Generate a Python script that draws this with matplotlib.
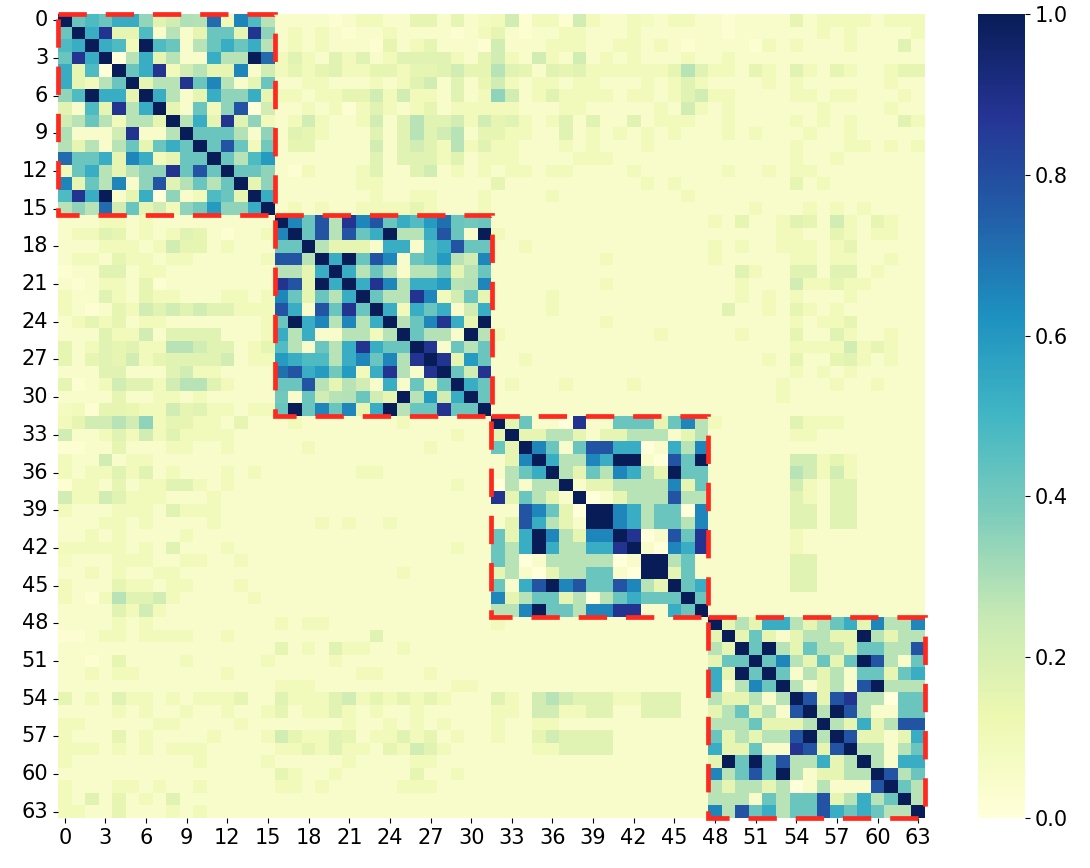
import numpy as np
import matplotlib
matplotlib.use("Agg")
import matplotlib.pyplot as plt
import matplotlib.patches as patches
import seaborn as sns

# levels 0-9; LEVELS gives the value of each level
LEVELS = [0.0, 0.05, 0.15, 0.28, 0.42, 0.53, 0.65, 0.78, 0.88, 1.0]
block1 = ["9444642131461743", "4958225131244284", "5595419441345453", "4859035231153397",
          "4250945812322613", "6223492338463124", "5495529531254452", "3152835921424703",
          "2343233293528341", "5111381139444213", "2231342454947425", "7445265124494355",
          "2453233384749444", "5243613714434924", "5859125031144295", "3336242224363359"]
block2 = ["9647386746255454", "6947374593357419", "4493222155145744", "7739594761445326",
          "3325953431333234", "8729595863555326", "6424359433861242", "7517484952545125",
          "4956363593468529", "4351133139424193", "7314358544981434", "6555356464898264",
          "8756562582189438", "4473233151424954", "3143344329352594", "4946462593448449"]
block3 = ["9241108114442463", "2922332122333123", "4296414775501536", "1269533659910749",
          "1345932436532944", "0313391223333624", "8243219012333733", "1176420996534406",
          "1275321996534436", "4259632669801748", "4359533558910658", "4301333330199341",
          "2310233441099241", "4157967447632945", "6234423034544494", "3369443668811549"]
block4 = ["9232553234526336", "2924212332293233", "3294932433244337", "2449463242497314",
          "5294941323144245", "5136493123179333", "3223139727833044", "2342317939731144",
          "3334222393252377", "4232337939722125", "5224118727933134", "2949473352393155",
          "6347493122339734", "3233230131117943", "3331434472353493", "6374534475454339"]

# background (outside the blocks), one string per row, block columns left out
bg_band1 = ["111101111122121013021022112012111011112122221212", "121210112111101221011211112111111011111121211112",
            "121211102112111031111211122121011110211111211131", "232132312333321222132121112111111211111111111111",
            "121211122122132233211211221112311112111212111222", "111211111112111032121112111212111111211111111211",
            "221222221312131132111212112111122211111112211121", "112110212112121122111211111121211211111121111211",
            "123211221331332323212313113122111211112121211131", "132211111331331222211312121212111212111211211111",
            "122111121321232122111212111211111111111111221212", "111111111311211112111112111111111111111112111111",
            "101111211112111112212211112111111211211211111111", "111111211111111121111111111212111111112121111111",
            "111111121122111211112111111111211111111111111111", "121211121121111111111111111111111112111212121111"]
bg_band2 = ["111121111111111111111111111111112121121212112211", "111121111121111111111111111111111111121112112211",
            "111122112221211111211111111111112111121111211111", "111121111111111111111111211111112111111111111111",
            "111131121111111111111111111111111111111111111111", "111121211111111111111111111111111121113122121111",
            "211121211111111211112111111111111111211111111111", "211122333333321111112111111111111311112112111111",
            "112121211111111211111111211111111111111121211111", "111122211111111211111111111121111111112111111211",
            "212123223333311211111111111111111111111121222111", "212123123333311211211111111111111111212112121111",
            "111131111211111111111111111111111111112121211111", "211123112333211112111211111111111111121112112111",
            "111121121111111111111111111111111111121111111111", "211223222232211211111111111111111111111111111111"]
bg_band3 = ["222332412212121112111111121111112111113222111111", "211111311111111111111111111111111111112211111111",
            "111121111111111111111111111111111111111111111111", "111211211111111111111111111111111111113322111111",
            "212132311111111111111111111111111111113322111111", "111121111111111111111111111111111111112111111111",
            "322332221112111111111111111111111111111111111111", "111121111111111111111111111111111111111111111111",
            "111211211112111111111211111111111111111111111111", "111111111111111111111111111111111111112111111111",
            "111121111111111111111111111112111111112111111111", "211121211111111111111111111111111111113311111111",
            "111121111111111111111111111111111111113311111111", "111121211111111111111111111111111111113311111111",
            "211233332111111111111111111111111111111111111111", "111132321111111111111111111111111111111111111111"]
bg_band4 = ["111121111111111111111111111111111111111111111111", "111121111111111111111111111111111111111111111111",
            "111111111111111121213121121111111111111111111111", "111121111111111111112111111111111111111111111111",
            "111121111111111111111112111111111111111111111111", "111111111111111111111111111111111111111111111111",
            "212132211122221132223222222211111112333331111111", "111111211111111121223212112111111112222331111111",
            "111111111111111111111111111111111111111111111111", "111121111111111132223211232211111112333331111111",
            "111121111111111122223221223311111112233331111111", "111111111111111111111111111111111111111111111111",
            "111111111111111121112111112111111111111111111111", "111111111111111111121111112211111111111111111111",
            "211121111111111111111111111111111111111111111111", "111121112111111111111111111111111111111111111111"]

blocks = [block1, block2, block3, block4]
bands = [bg_band1, bg_band2, bg_band3, bg_band4]
rows = []
for k in range(4):
    for r in range(16):
        bg = bands[k][r]
        rows.append(bg[:16 * k] + blocks[k][r] + bg[16 * k:])
M = np.array([[LEVELS[int(c)] for c in row] for row in rows])
M = (M + M.T) / 2
np.fill_diagonal(M, 1.0)

fig = plt.figure(figsize=(10.9, 8.68), dpi=100)
ax = fig.add_axes([58 / 1090, 1 - 818 / 868, 867 / 1090, 804 / 868])
cax = fig.add_axes([978 / 1090, 1 - 818 / 868, 47 / 1090, 804 / 868])
sns.heatmap(M, ax=ax, cbar_ax=cax, cmap="YlGnBu", vmin=0, vmax=1,
            xticklabels=3, yticklabels=3)
ax.tick_params(axis='y', rotation=0, labelsize=15)
ax.tick_params(axis='x', rotation=0, labelsize=15)
cax.tick_params(labelsize=15)
cax.set_yticks([0.0, 0.2, 0.4, 0.6, 0.8, 1.0])

for k in range(4):
    rect = patches.Rectangle((16 * k, 16 * k), 16, 16, fill=False, edgecolor='#ff2a1f',
                             linewidth=3.4, linestyle=(0, (6, 4)), clip_on=False, zorder=5)
    ax.add_patch(rect)

fig.savefig("out.png", dpi=100)
